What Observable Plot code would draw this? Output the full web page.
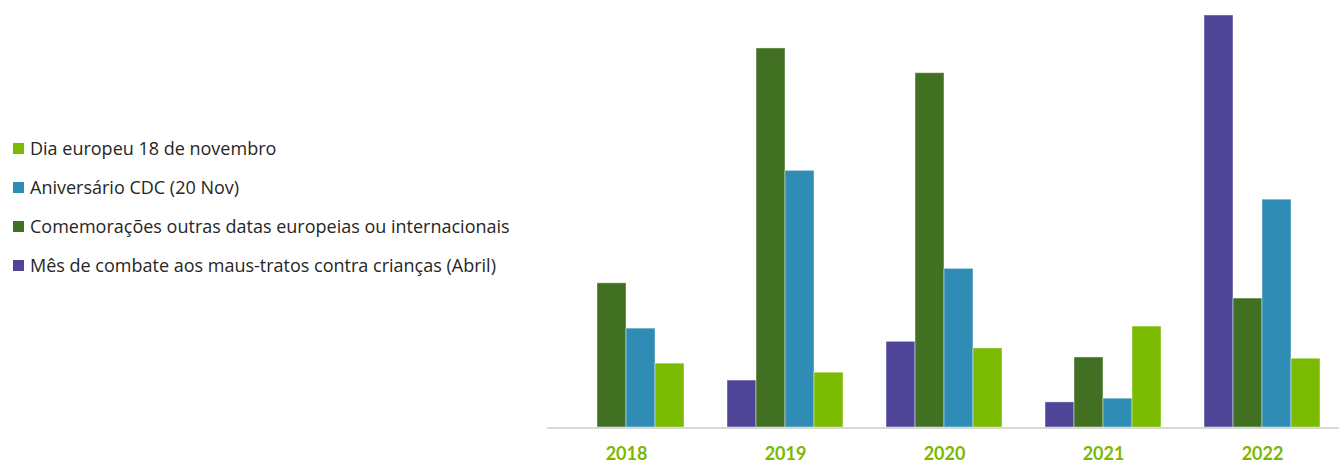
<!DOCTYPE html>
<html>
<head>
<meta charset="utf-8">
<script src="https://cdn.jsdelivr.net/npm/d3@7"></script>
<script src="https://cdn.jsdelivr.net/npm/@observablehq/plot@0.6"></script>
<style>
  body { margin: 0; background: #fff; }
  #wrap { position: relative; width: 1339px; height: 463px; font-family: "Open Sans", Lato, sans-serif; }
  #legend { position: absolute; left: 13px; top: 128.5px; }
  .item { height: 39px; display: flex; align-items: center; font-size: 18px; color: #262626; white-space: nowrap; }
  .sw { width: 11px; height: 11px; margin-right: 6px; flex: none; }
  #chart { position: absolute; left: 0; top: 0; }
</style>
</head>
<body>
<div id="wrap">
  <div id="chart"></div>
  <div id="legend"></div>
</div>
<script>
// Categories
const years = ["2018", "2019", "2020", "2021", "2022"];
// Series (bar order within each year)
const seriesNames = [
  "Mês de combate aos maus-tratos contra crianças (Abril)",
  "Comemorações outras datas europeias ou internacionais",
  "Aniversário CDC (20 Nov)",
  "Dia europeu 18 de novembro"
];
const seriesColors = ["#4e4598", "#417022", "#2f8cb5", "#7aba00"];
// Values (relative units)
const abril  = [0,    11.4, 20.8, 6.1,  100];
const outras = [35,   92,   86,   17,   31.3];
const cdc    = [24,   62.3, 38.5, 7,    55.3];
const dia18  = [15.5, 13.3, 19.2, 24.5, 16.7];
// Legend order (top to bottom)
const legendOrder = [3, 2, 1, 0];

const seriesValues = [abril, outras, cdc, dia18];
const data = [];
years.forEach((yr, i) => {
  seriesNames.forEach((s, j) => {
    data.push({ year: yr, series: s, value: seriesValues[j][i] });
  });
});

const W = 1339, H = 463, ML = 547;
const plot = Plot.plot({
  width: W,
  height: H,
  marginLeft: ML,
  marginRight: 0,
  marginTop: 15,
  marginBottom: 36,
  style: { fontFamily: "Lato, 'Open Sans', sans-serif", background: "transparent", overflow: "visible" },
  fx: { domain: years, range: [ML - 2, ML + 795], paddingInner: 0.26, paddingOuter: 0.13, label: null, axis: null },
  x: { domain: seriesNames, padding: 0, axis: null },
  y: { domain: [0, 100], axis: null },
  color: { domain: seriesNames, range: seriesColors },
  marks: [
    Plot.barY(data, {
      fx: "year", x: "series", y: "value", fill: "series",
      stroke: "white", strokeOpacity: 0.45, strokeWidth: 1
    }),
    Plot.axisFx({
      anchor: "bottom", tickSize: 0, tickPadding: 20,
      fontSize: 18, fontWeight: "bold", fill: "#7ab800", label: null
    })
  ]
});

// baseline axis line across the whole plot area, placed via the y scale
const y0 = plot.scale("y").apply(0);
d3.select(plot).append("line")
  .attr("x1", ML).attr("x2", W)
  .attr("y1", y0 + 1).attr("y2", y0 + 1)
  .attr("stroke", "#d9d9d9").attr("stroke-width", 2);

document.getElementById("chart").appendChild(plot);

const legend = d3.select("#legend");
legendOrder.forEach(j => {
  const it = legend.append("div").attr("class", "item");
  it.append("div").attr("class", "sw").style("background", seriesColors[j]);
  it.append("span").text(seriesNames[j]);
});
</script>
</body>
</html>
